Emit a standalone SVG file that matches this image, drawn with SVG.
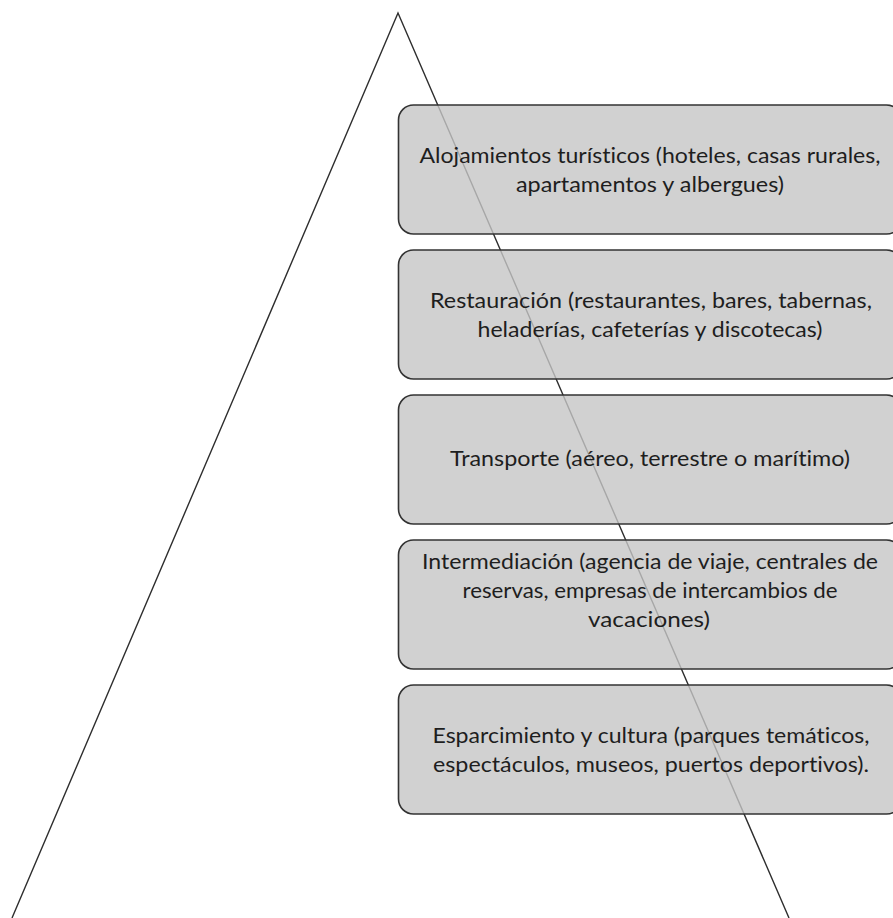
<svg xmlns="http://www.w3.org/2000/svg" width="893" height="918" viewBox="0 0 893 918">
  <style>
    .tri { fill: none; stroke: #2e2e2e; stroke-width: 1.4; }
    .box { fill: #c6c6c6; fill-opacity: 0.8; stroke: #333333; stroke-width: 1.6; }
    .lbl { font-family: Lato, "Open Sans", "Liberation Sans", sans-serif; font-size: 22px; fill: #1e1e1e; text-anchor: middle; font-variant-ligatures: none; }
  </style>
  <rect x="0" y="0" width="893" height="918" fill="#ffffff"/>
  <g id="connectors">
    <polyline class="tri" points="12,918 398,13 789,918"/>
  </g>
  <g id="node1">
    <rect class="box" x="398.5" y="105" width="503" height="129" rx="15" ry="15"/>
    <text class="lbl" x="650" y="163" textLength="461" lengthAdjust="spacingAndGlyphs">Alojamientos turísticos (hoteles, casas rurales,</text>
    <text class="lbl" x="650" y="192" textLength="268" lengthAdjust="spacingAndGlyphs">apartamentos y albergues)</text>
  </g>
  <g id="node2">
    <rect class="box" x="398.5" y="250" width="503" height="129" rx="15" ry="15"/>
    <text class="lbl" x="651" y="308" textLength="442" lengthAdjust="spacingAndGlyphs">Restauración (restaurantes, bares, tabernas,</text>
    <text class="lbl" x="650" y="337" textLength="345" lengthAdjust="spacingAndGlyphs">heladerías, cafeterías y discotecas)</text>
  </g>
  <g id="node3">
    <rect class="box" x="398.5" y="395" width="503" height="129" rx="15" ry="15"/>
    <text class="lbl" x="650" y="466" textLength="400" lengthAdjust="spacingAndGlyphs">Transporte (aéreo, terrestre o marítimo)</text>
  </g>
  <g id="node4">
    <rect class="box" x="398.5" y="540" width="503" height="129" rx="15" ry="15"/>
    <text class="lbl" x="650" y="569" textLength="456" lengthAdjust="spacingAndGlyphs">Intermediación (agencia de viaje, centrales de</text>
    <text class="lbl" x="650" y="598" textLength="375" lengthAdjust="spacingAndGlyphs">reservas, empresas de intercambios de</text>
    <text class="lbl" x="649" y="627" textLength="122" lengthAdjust="spacingAndGlyphs">vacaciones)</text>
  </g>
  <g id="node5">
    <rect class="box" x="398.5" y="685" width="503" height="129" rx="15" ry="15"/>
    <text class="lbl" x="651" y="743" textLength="437" lengthAdjust="spacingAndGlyphs">Esparcimiento y cultura (parques temáticos,</text>
    <text class="lbl" x="651" y="772" textLength="436" lengthAdjust="spacingAndGlyphs">espectáculos, museos, puertos deportivos).</text>
  </g>
</svg>
